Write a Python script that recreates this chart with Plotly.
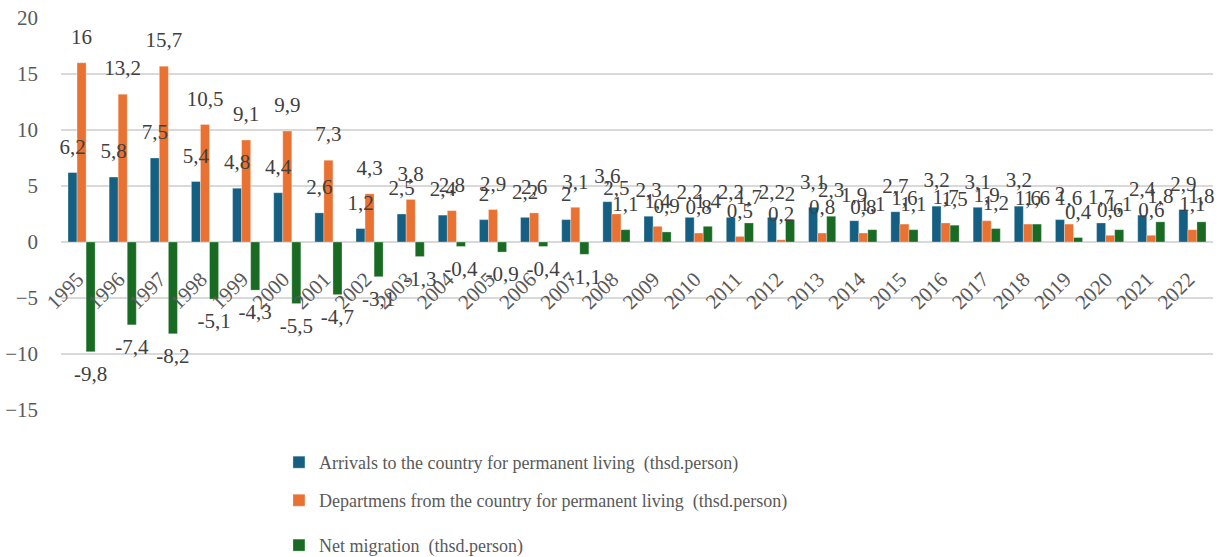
"""Migration balance chart, 1995-2022 (thsd. person)."""
import plotly.graph_objects as go

years = [str(y) for y in range(1995, 2023)]

arrivals = [6.2, 5.8, 7.5, 5.4, 4.8, 4.4, 2.6, 1.2, 2.5, 2.4, 2.0, 2.2, 2.0, 3.6,
            2.3, 2.2, 2.2, 2.2, 3.1, 1.9, 2.7, 3.2, 3.1, 3.2, 2.0, 1.7, 2.4, 2.9]
departures = [16.0, 13.2, 15.7, 10.5, 9.1, 9.9, 7.3, 4.3, 3.8, 2.8, 2.9, 2.6, 3.1, 2.5,
              1.4, 0.8, 0.5, 0.2, 0.8, 0.8, 1.6, 1.7, 1.9, 1.6, 1.6, 0.6, 0.6, 1.1]
net = [-9.8, -7.4, -8.2, -5.1, -4.3, -5.5, -4.7, -3.1, -1.3, -0.4, -0.9, -0.4, -1.1, 1.1,
       0.9, 1.4, 1.7, 2.0, 2.3, 1.1, 1.1, 1.5, 1.2, 1.6, 0.4, 1.1, 1.8, 1.8]

series = [
    ("Arrivals to the country for permanent living  (thsd.person)", arrivals, "#156082"),
    ("Departmens from the country for permanent living  (thsd.person)", departures, "#E97132"),
    ("Net migration  (thsd.person)", net, "#196B24"),
]

FONT = "Liberation Serif, Times New Roman, serif"
Y_MIN, Y_MAX = -15, 20
GAP = 0.34
# one small legend per series, stacked under the plot (container fractions, from the bottom)
LEGEND_ROWS = [0.2029, 0.1346, 0.0540]


def fmt(v):
    # Excel-style labels with decimal comma, no trailing ",0"
    return f"{v:g}".replace(".", ",")


fig = go.Figure()
for i, (name, vals, color) in enumerate(series):
    fig.add_trace(go.Bar(
        x=years, y=vals, name=name,
        marker=dict(color=color, line=dict(color="rgba(255,255,255,0.6)", width=0.5)),
        legend="legend" if i == 0 else f"legend{i + 1}",
    ))

# data labels drawn on top of all bars (grouped scatter, same slots as the bars)
for i, (name, vals, color) in enumerate(series):
    fig.add_trace(go.Scatter(
        x=years, y=vals, mode="markers+text",
        marker=dict(size=20, color="rgba(0,0,0,0)"),
        text=[fmt(v) for v in vals],
        textposition=["top center" if v >= 0 else "bottom center" for v in vals],
        textfont=dict(family=FONT, size=21, color="#404040"),
        cliponaxis=False, showlegend=False, hoverinfo="skip",
    ))

legend_style = dict(
    orientation="v", xref="paper", yref="container",
    x=0.1892, xanchor="left", yanchor="top",
    font=dict(family=FONT, size=18, color="#595959"),
    itemwidth=30, bgcolor="rgba(0,0,0,0)",
)

fig.update_layout(
    width=1221, height=557,
    barmode="group", bargap=GAP, bargroupgap=0,
    scattermode="group", scattergap=GAP,
    plot_bgcolor="white", paper_bgcolor="white",
    font=dict(family=FONT, color="#595959", size=21),
    margin=dict(l=61, r=8, t=18, b=147),
    showlegend=True,
    legend=dict(legend_style, y=LEGEND_ROWS[0]),
    legend2=dict(legend_style, y=LEGEND_ROWS[1]),
    legend3=dict(legend_style, y=LEGEND_ROWS[2]),
)
fig.update_yaxes(
    range=[Y_MIN, Y_MAX], dtick=5, showgrid=True, gridcolor="#d9d9d9", gridwidth=1.5,
    zeroline=True, zerolinecolor="#d9d9d9", zerolinewidth=1.5,
    showline=False, ticks="", ticklabelstandoff=22, automargin=False,
    tickfont=dict(family=FONT, size=21, color="#595959"),
)
fig.update_xaxes(
    anchor="free", position=(0 - Y_MIN) / (Y_MAX - Y_MIN), automargin=False,
    tickangle=-45, showgrid=False, showline=False, ticks="",
    ticklabelstandoff=20, ticklabelshift=-4,
    tickfont=dict(family=FONT, size=21, color="#595959"),
)

# drop the default 8px page margin so the figure sits at the window's corner
fig.write_html("out.html", config={"displayModeBar": False},
               post_script="document.body.style.margin = '0';")
